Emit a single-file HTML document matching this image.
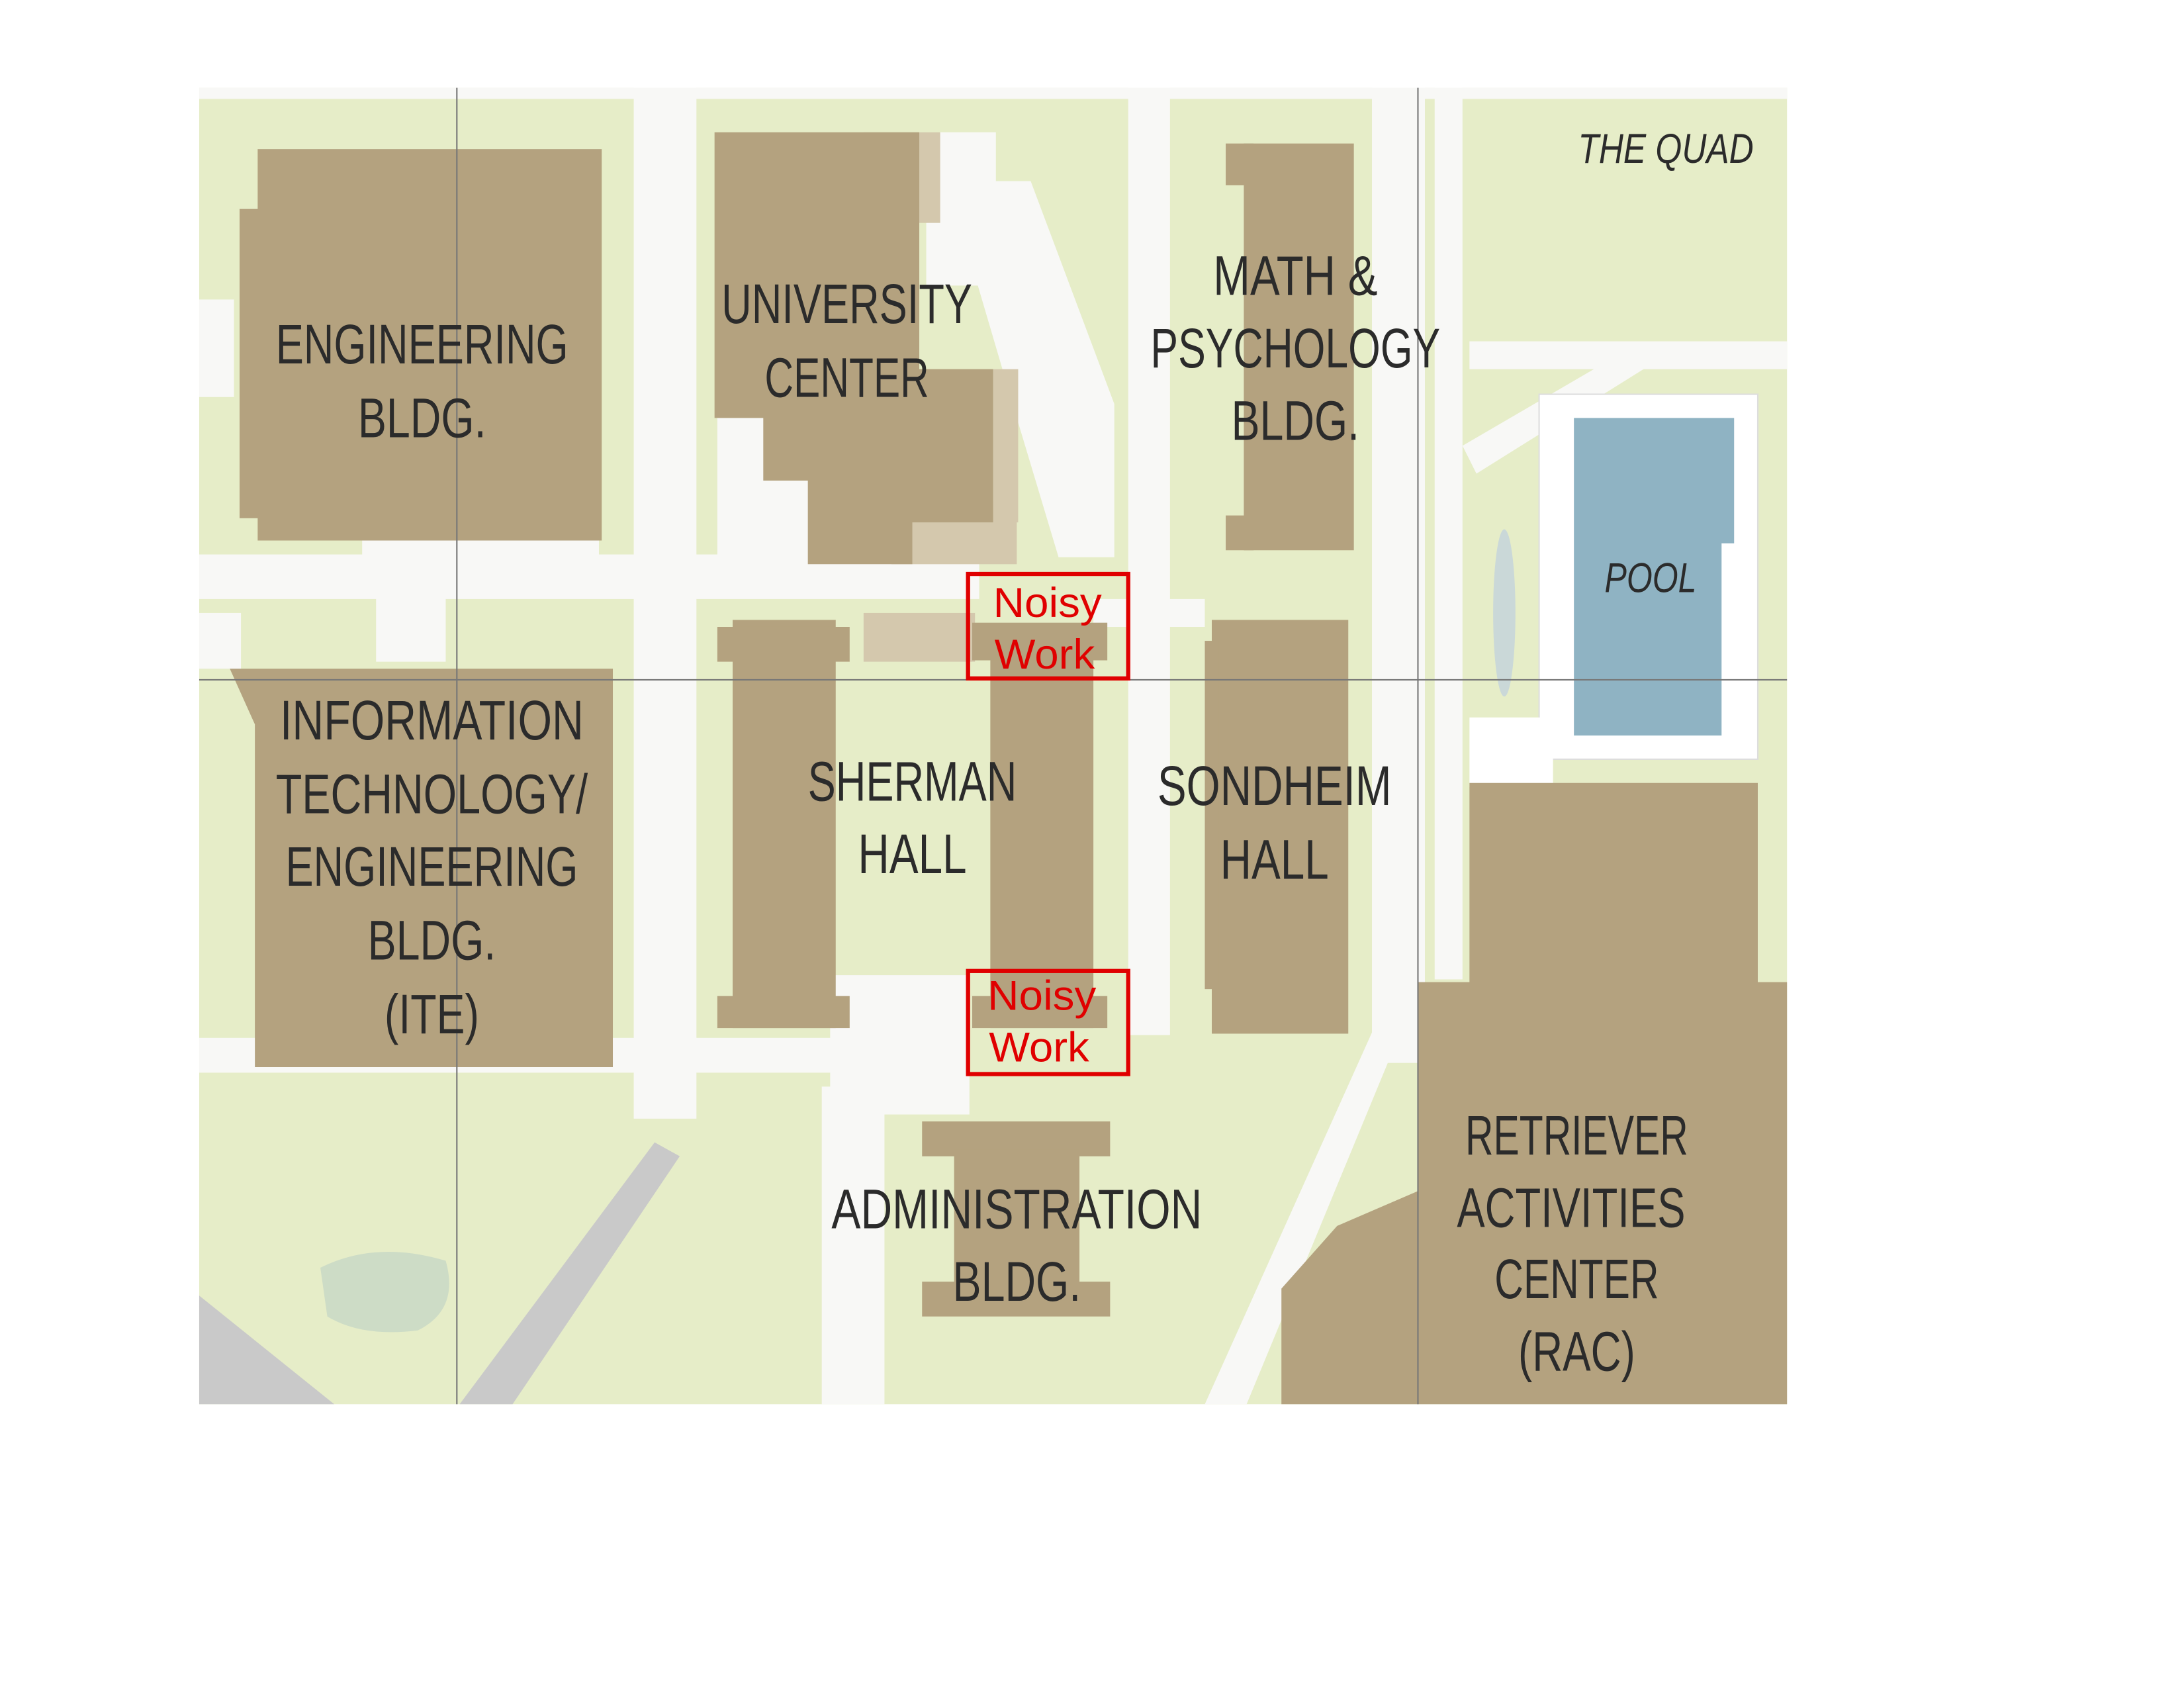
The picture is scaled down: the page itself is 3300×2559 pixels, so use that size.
<!DOCTYPE html>
<html><head><meta charset="utf-8"><style>
html,body{margin:0;padding:0;background:#fff;}
svg{display:block;}
.l{font-family:"Liberation Sans Narrow","Liberation Sans",sans-serif;font-size:40px;fill:#2b2b2b;text-anchor:middle;dominant-baseline:central;}
.i{font-style:italic;font-size:30px;}
.n{font-family:"Liberation Sans",sans-serif;font-size:30px;fill:#e00000;text-anchor:middle;dominant-baseline:central;}
</style></head><body>
<svg width="3300" height="2559" viewBox="0 0 1568 1216" preserveAspectRatio="none" xmlns="http://www.w3.org/2000/svg">
<rect width="1568" height="1216" fill="#fff"/>
<rect x="143" y="63" width="1140" height="945" fill="#e6edc8"/>
<g fill="#f8f8f6">
<rect x="143" y="63" width="1140" height="8"/>
<rect x="455" y="63" width="45" height="740"/>
<rect x="143" y="398" width="560" height="32"/>
<rect x="665" y="95" width="50" height="110"/>
<polygon points="680,130 740,130 800,290 800,400 760,400 730,300"/>
<rect x="810" y="63" width="30" height="680"/>
<rect x="985" y="63" width="38" height="700"/>
<rect x="1030" y="63" width="20" height="640"/>
<rect x="596" y="700" width="100" height="100"/>
<rect x="590" y="780" width="45" height="228"/>
<rect x="143" y="745" width="520" height="25"/>
<rect x="143" y="440" width="30" height="40"/>
<rect x="1055" y="245" width="228" height="20"/>
<polygon points="1050,320 1170,250 1180,265 1060,340"/>
<polygon points="865,1008 990,730 1010,730 895,1008"/>
<rect x="515" y="300" width="70" height="105"/>
<rect x="260" y="385" width="170" height="25"/>
<rect x="270" y="420" width="50" height="55"/>
<rect x="143" y="215" width="25" height="70"/>
<rect x="785" y="430" width="80" height="20"/>
</g>
<rect x="1105" y="283" width="157" height="262" fill="#fff" stroke="#ddd"/>
<rect x="1055" y="515" width="60" height="50" fill="#fff"/>
<path d="M330,1008 L470,820 L488,830 L368,1008 Z" fill="#c9c9c9"/>
<path d="M143,930 L240,1008 L143,1008 Z" fill="#c9c9c9"/>
<path d="M230,910 Q270,890 320,905 Q330,940 300,955 Q260,960 235,945 Z" fill="#cddcc6"/>
<ellipse cx="1080" cy="440" rx="8" ry="60" fill="#cad8d8"/>
<g fill="#d4c8ad">
<rect x="620" y="95" width="55" height="65"/>
<rect x="640" y="360" width="90" height="45"/>
<rect x="620" y="440" width="80" height="35"/>
<rect x="713" y="265" width="18" height="110"/>
</g>
<g fill="#b4a27f">
<rect x="185" y="107" width="247" height="281"/>
<rect x="172" y="150" width="20" height="222"/>
<polygon points="513,95 660,95 660,265 713,265 713,375 655,375 655,405 580,405 580,345 548,345 548,300 513,300"/>
<rect x="893" y="103" width="79" height="292"/>
<rect x="880" y="103" width="20" height="30"/>
<rect x="880" y="370" width="20" height="25"/>
<rect x="526" y="445" width="74" height="293"/>
<rect x="515" y="450" width="95" height="25"/>
<rect x="515" y="715" width="95" height="23"/>
<rect x="711" y="470" width="74" height="268"/>
<rect x="698" y="447" width="97" height="27"/>
<rect x="698" y="715" width="97" height="23"/>
<rect x="870" y="445" width="98" height="297"/>
<rect x="865" y="460" width="10" height="250"/>
<polygon points="165,480 440,480 440,766 183,766 183,520"/>
<rect x="662" y="805" width="135" height="25"/>
<rect x="685" y="825" width="90" height="100"/>
<rect x="662" y="920" width="135" height="25"/>
<polygon points="1055,562 1262,562 1262,705 1283,705 1283,1008 920,1008 920,925 960,880 1018,855 1018,705 1055,705"/>
</g>
<polygon points="1130,300 1245,300 1245,390 1236,390 1236,528 1130,528" fill="#8fb3c3"/>
<g stroke="#777" stroke-width="1">
<line x1="328" y1="63" x2="328" y2="1008"/>
<line x1="1018" y1="63" x2="1018" y2="1008"/>
<line x1="143" y1="488" x2="1283" y2="488"/>
</g>
<text class="l" x="303" y="247" textLength="210" lengthAdjust="spacingAndGlyphs">ENGINEERING</text>
<text class="l" x="303" y="300" textLength="92" lengthAdjust="spacingAndGlyphs">BLDG.</text>
<text class="l" x="608" y="218" textLength="180" lengthAdjust="spacingAndGlyphs">UNIVERSITY</text>
<text class="l" x="608" y="271" textLength="118" lengthAdjust="spacingAndGlyphs">CENTER</text>
<text class="l" x="930" y="198" textLength="118" lengthAdjust="spacingAndGlyphs">MATH &amp;</text>
<text class="l" x="930" y="250" textLength="208" lengthAdjust="spacingAndGlyphs">PSYCHOLOGY</text>
<text class="l" x="930" y="302" textLength="92" lengthAdjust="spacingAndGlyphs">BLDG.</text>
<text class="l" x="310" y="517" textLength="218" lengthAdjust="spacingAndGlyphs">INFORMATION</text>
<text class="l" x="310" y="570" textLength="224" lengthAdjust="spacingAndGlyphs">TECHNOLOGY/</text>
<text class="l" x="310" y="622" textLength="210" lengthAdjust="spacingAndGlyphs">ENGINEERING</text>
<text class="l" x="310" y="675" textLength="92" lengthAdjust="spacingAndGlyphs">BLDG.</text>
<text class="l" x="310" y="728" textLength="68" lengthAdjust="spacingAndGlyphs">(ITE)</text>
<text class="l" x="655" y="561" textLength="150" lengthAdjust="spacingAndGlyphs">SHERMAN</text>
<text class="l" x="655" y="613" textLength="78" lengthAdjust="spacingAndGlyphs">HALL</text>
<text class="l" x="915" y="564" textLength="168" lengthAdjust="spacingAndGlyphs">SONDHEIM</text>
<text class="l" x="915" y="617" textLength="78" lengthAdjust="spacingAndGlyphs">HALL</text>
<text class="l" x="730" y="868" textLength="266" lengthAdjust="spacingAndGlyphs">ADMINISTRATION</text>
<text class="l" x="730" y="920" textLength="92" lengthAdjust="spacingAndGlyphs">BLDG.</text>
<text class="l" x="1132" y="815" textLength="160" lengthAdjust="spacingAndGlyphs">RETRIEVER</text>
<text class="l" x="1128" y="867" textLength="164" lengthAdjust="spacingAndGlyphs">ACTIVITIES</text>
<text class="l" x="1132" y="918" textLength="118" lengthAdjust="spacingAndGlyphs">CENTER</text>
<text class="l" x="1132" y="970" textLength="84" lengthAdjust="spacingAndGlyphs">(RAC)</text>
<text class="l i" x="1196" y="107" textLength="126" lengthAdjust="spacingAndGlyphs">THE QUAD</text>
<text class="l i" x="1185" y="415" textLength="66" lengthAdjust="spacingAndGlyphs">POOL</text>
<g fill="none" stroke="#e00000" stroke-width="3">
<rect x="695" y="412" width="115" height="75"/>
<rect x="695" y="697" width="115" height="74"/>
</g>
<text class="n" x="752" y="433" textLength="78" lengthAdjust="spacingAndGlyphs">Noisy</text>
<text class="n" x="750" y="470" textLength="72" lengthAdjust="spacingAndGlyphs">Work</text>
<text class="n" x="748" y="715" textLength="78" lengthAdjust="spacingAndGlyphs">Noisy</text>
<text class="n" x="746" y="752" textLength="72" lengthAdjust="spacingAndGlyphs">Work</text>
</svg>
</body></html>
